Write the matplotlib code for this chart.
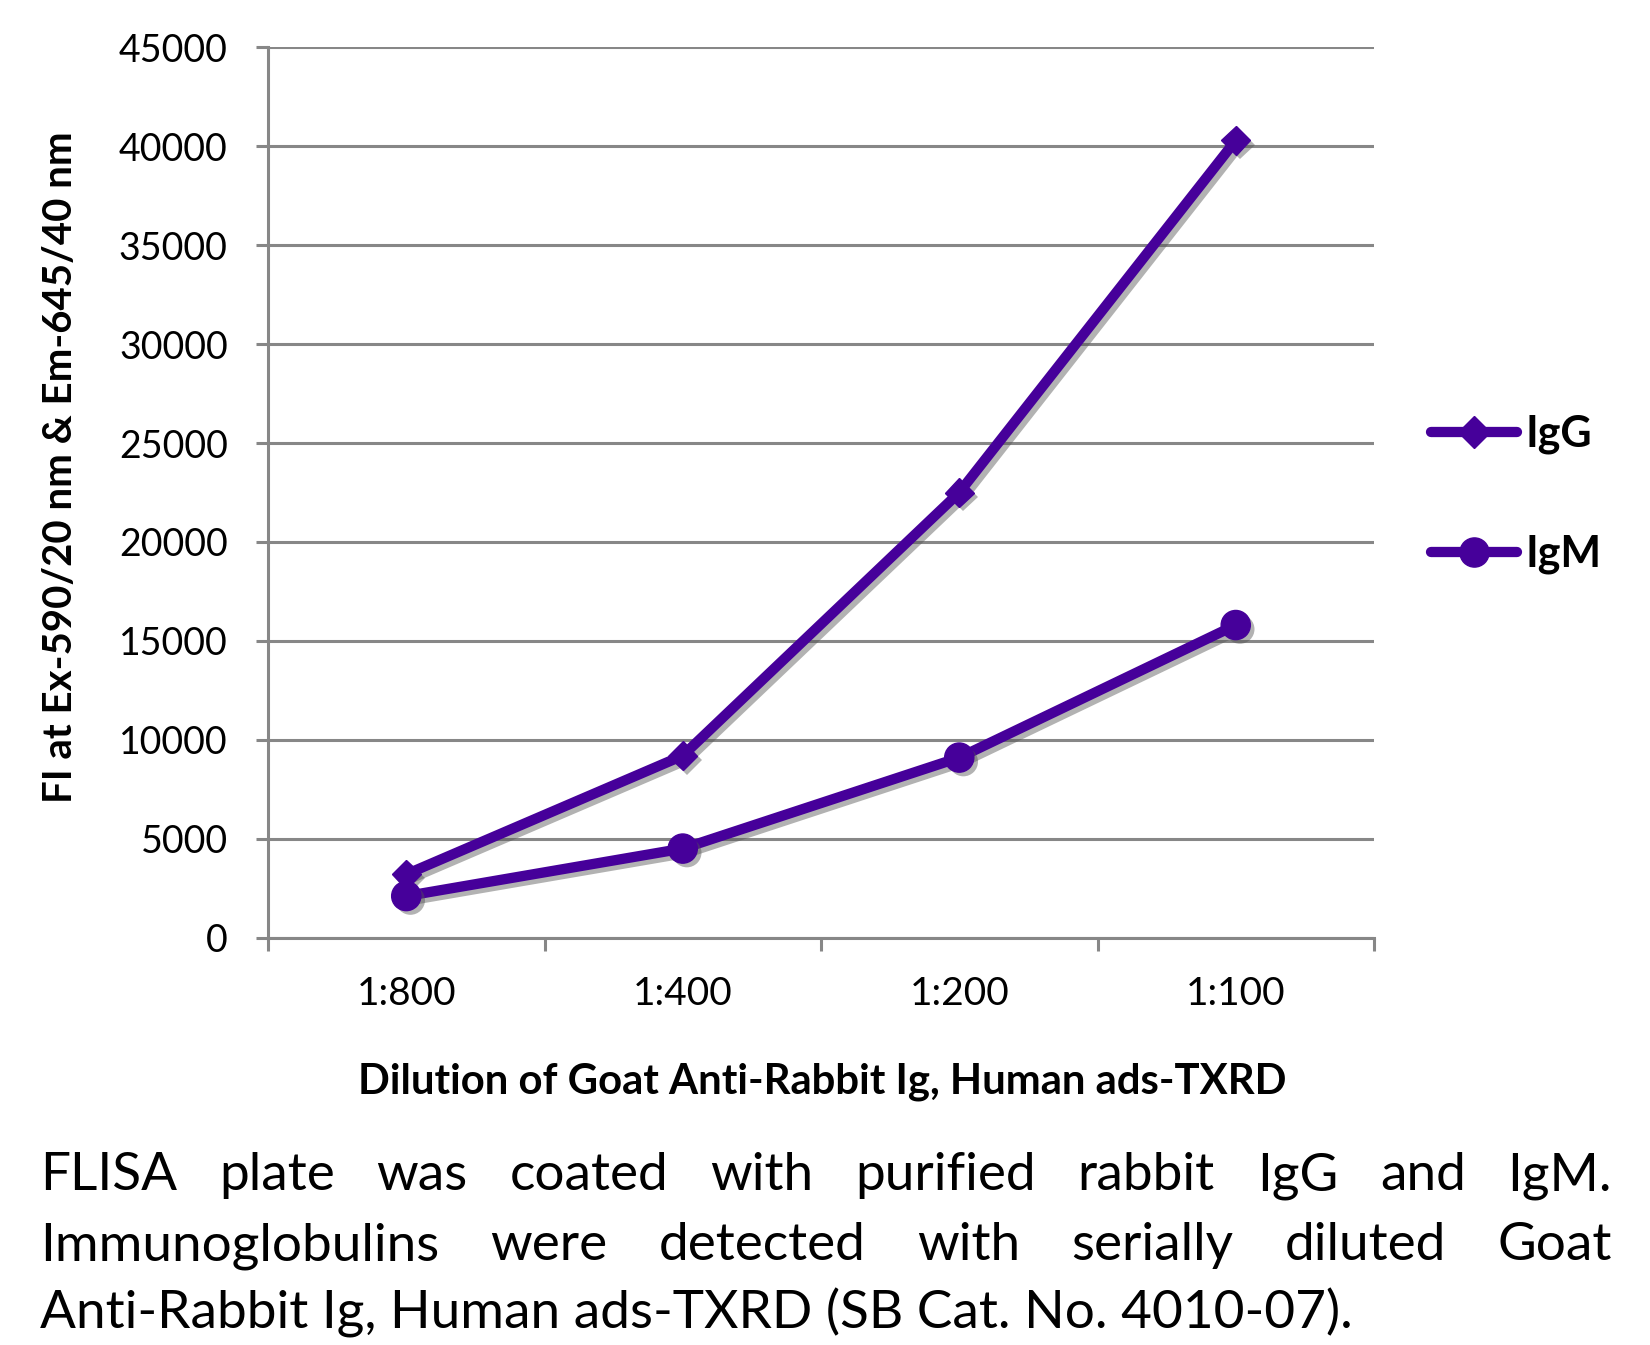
import matplotlib
matplotlib.use('Agg')
import matplotlib.pyplot as plt
import matplotlib.patheffects as pe
from matplotlib.lines import Line2D

# ---------------- data ----------------
categories = ['1:800', '1:400', '1:200', '1:100']
igg_values = [3200, 9200, 22500, 40300]
igm_values = [2100, 4500, 9100, 15800]
series_names = ['IgG', 'IgM']
y_ticks = [0, 5000, 10000, 15000, 20000, 25000, 30000, 35000, 40000, 45000]
x_label = 'Dilution of Goat Anti-Rabbit Ig, Human ads-TXRD'
y_label = 'FI at Ex-590/20 nm & Em-645/40 nm'
caption_lines = [
    'FLISA plate was coated with purified rabbit IgG and IgM.',
    'Immunoglobulins were detected with serially diluted Goat',
    'Anti-Rabbit Ig, Human ads-TXRD (SB Cat. No. 4010-07).',
]

# ---------------- style ----------------
W, H = 1650, 1345
FONT = 'Lato'
plt.rcParams['font.family'] = [FONT, 'DejaVu Sans']
LINE_COLOR = '#46009A'
GRID_COLOR = '#878787'

fig = plt.figure(figsize=(W / 100, H / 100), dpi=100)
renderer = fig.canvas.get_renderer()


def fx(px):
    return px / W


def fy(py):
    return 1 - py / H


def fit_size(text, target_px, weight='normal', start=30):
    t = fig.text(0, 0, text, fontsize=start, fontweight=weight)
    w = t.get_window_extent(renderer).width
    t.remove()
    return start * target_px / w


ax = fig.add_axes([fx(268), fy(937.6), fx(1374) - fx(268), fy(47.4) - fy(937.6)])
x = list(range(len(categories)))

line_shadow = [pe.SimpleLineShadow(offset=(3, -3), shadow_color='#555555', alpha=0.45), pe.Normal()]
patch_shadow = [pe.SimplePatchShadow(offset=(3, -3), shadow_rgbFace='#555555', alpha=0.45), pe.Normal()]

for vals, mk, ms in [(igg_values, 'D', 15), (igm_values, 'o', 21)]:
    ax.plot(x, vals, color=LINE_COLOR, lw=7.4, solid_joinstyle='round',
            solid_capstyle='round', path_effects=line_shadow, zorder=3)
    ax.plot(x, vals, linestyle='none', marker=mk, ms=ms, color=LINE_COLOR,
            mec=LINE_COLOR, path_effects=patch_shadow, zorder=4)

ax.set_xlim(-0.5, len(categories) - 0.5)
ax.set_ylim(0, 45000)
ax.set_yticks(y_ticks)
ax.set_yticklabels([str(v) for v in y_ticks])
ax.set_xticks([i - 0.5 for i in range(len(categories) + 1)])
ax.set_xticklabels([])
ax.set_xticks(x, minor=True)
ax.set_xticklabels(categories, minor=True)

ax.grid(axis='y', color=GRID_COLOR, lw=2.2, zorder=0)
ax.set_axisbelow(True)
for s in ['top', 'right']:
    ax.spines[s].set_visible(False)
for s in ['left', 'bottom']:
    ax.spines[s].set_color(GRID_COLOR)
    ax.spines[s].set_linewidth(2.2)
ax.tick_params(axis='y', which='major', direction='out', length=9, width=2.2,
               color=GRID_COLOR, labelsize=27, pad=20)
ax.tick_params(axis='x', which='major', direction='out', length=9, width=2.2,
               color=GRID_COLOR)
ax.tick_params(axis='x', which='minor', length=0, labelsize=28, pad=28)

# axis labels
xs = fit_size(x_label, 928, 'bold')
fig.text(fx(822), fy(1082), x_label, fontsize=xs, fontweight='bold',
         ha='center', va='center')
ys = fit_size(y_label, 670, 'bold')
fig.text(fx(61), fy(467), y_label, fontsize=ys, fontweight='bold',
         ha='center', va='center', rotation=90)

# legend
handles = [
    Line2D([], [], color=LINE_COLOR, lw=7.4, marker='D', ms=16, solid_capstyle='round'),
    Line2D([], [], color=LINE_COLOR, lw=7.4, marker='o', ms=21, solid_capstyle='round'),
]
leg = fig.legend(handles, series_names, loc='center left',
                 bbox_to_anchor=(fx(1431), fy(494)), frameon=False,
                 prop={'weight': 'bold', 'size': 31}, handlelength=2.0,
                 handletextpad=0.2, labelspacing=1.85, borderpad=0, borderaxespad=0)

# caption (justified)
cap_size = fit_size(caption_lines[2], 1309, 'normal')
left, right = 40, 1612
baselines = [1190, 1260, 1329]
for i, (line, base) in enumerate(zip(caption_lines, baselines)):
    if i < 2:
        words = line.split(' ')
        texts = [fig.text(0, fy(base), w, fontsize=cap_size, va='baseline', ha='left')
                 for w in words]
        widths = [t.get_window_extent(renderer).width for t in texts]
        gap = (right - left - sum(widths)) / (len(words) - 1)
        pos = left
        for t, w in zip(texts, widths):
            t.set_x(fx(pos))
            pos += w + gap
    else:
        fig.text(fx(left), fy(base), line, fontsize=cap_size, va='baseline', ha='left')

fig.savefig('out.png', dpi=100)
